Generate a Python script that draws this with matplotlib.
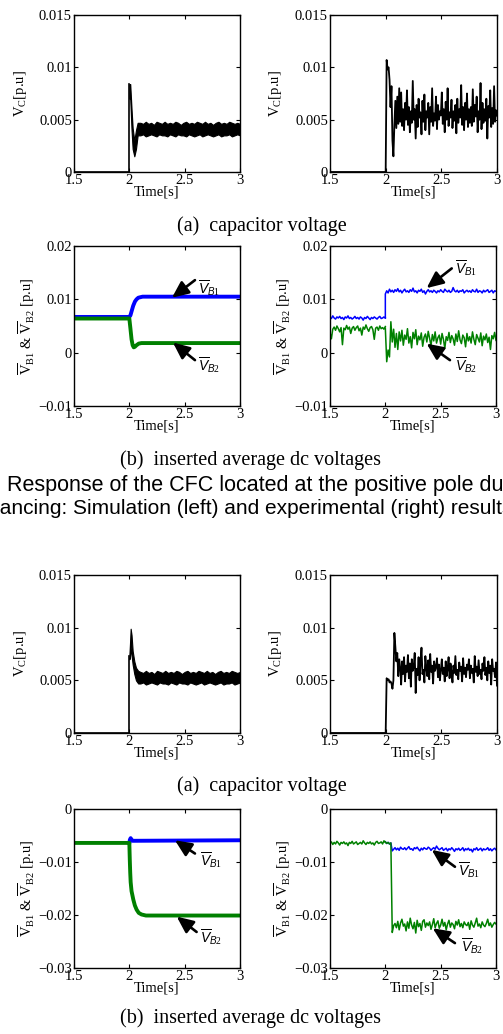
import numpy as np
import matplotlib
matplotlib.use('Agg')
import matplotlib.pyplot as plt
from matplotlib.ticker import FuncFormatter

plt.rcParams['font.family'] = 'Liberation Serif'
plt.rcParams['mathtext.fontset'] = 'custom'
plt.rcParams['mathtext.rm'] = 'Liberation Serif'
plt.rcParams['mathtext.it'] = 'Liberation Sans:italic'
plt.rcParams['axes.unicode_minus'] = True

W, H = 503, 1034
BLUE = '#0000ff'
GREEN = '#008000'

# -------------------------------------------------------------
# data (values in 1e-3 p.u.)
# -------------------------------------------------------------
# --- case 1, simulation, capacitor voltage (ripple band) ---
vc1_sim_line_t = [1.5, 2.0, 2.0]
vc1_sim_line_v = [0.0, 0.0, 8.4]
vc1_sim_tr_t = [2.0, 2.008, 2.02, 2.03, 2.045, 2.06, 2.075]
vc1_sim_tr_hi = [8.4, 8.4, 6.0, 4.2, 3.0, 4.0, 4.7]
vc1_sim_tr_lo = [7.0, 7.0, 4.0, 2.2, 1.5, 2.2, 3.5]
vc1_sim_band_hi = [4.7, 4.6, 4.8, 4.6, 4.7, 4.5, 4.8, 4.7, 4.6, 4.8, 4.6, 4.7, 4.6,
                   4.8, 4.7, 4.5, 4.7, 4.8, 4.6, 4.7, 4.6, 4.8, 4.7, 4.6, 4.8, 4.6,
                   4.7, 4.5, 4.7, 4.8, 4.6, 4.7, 4.6, 4.8, 4.7, 4.6, 4.7, 4.6]
vc1_sim_band_lo = [3.5, 3.6, 3.4, 3.5, 3.6, 3.5, 3.4, 3.6, 3.5, 3.5, 3.4, 3.6, 3.5,
                   3.4, 3.6, 3.5, 3.5, 3.4, 3.6, 3.5, 3.4, 3.5, 3.6, 3.4, 3.5, 3.6,
                   3.5, 3.4, 3.5, 3.6, 3.4, 3.5, 3.5, 3.6, 3.4, 3.5, 3.6, 3.5]

# --- case 1, experiment, capacitor voltage ---
vc1_exp_pre_t = [1.5, 2.0]
vc1_exp_pre_v = [0.0, 0.0]
vc1_exp_v = [0.0, 10.7, 9.8, 10.0, 8.8, 6.2, 8.2, 3.0, 1.5, 4.5, 6.8, 4.2, 7.2, 4.6,
             8.0, 4.8, 7.6, 4.4, 6.0, 4.0, 6.6, 5.0, 7.8, 4.5, 6.2, 3.8, 5.8, 4.7,
             8.7, 5.0, 6.0, 3.2, 6.4, 4.3, 7.0, 5.2, 5.7, 3.6, 6.8, 4.8, 7.4, 4.0,
             5.8, 5.2, 6.6, 3.6, 6.2, 4.8, 8.0, 4.4, 5.6, 4.9, 7.2, 4.1, 6.4, 5.0,
             5.8, 5.4, 7.6, 4.6, 6.0, 3.8, 6.7, 5.0, 8.0, 4.4, 5.7, 5.2, 6.9, 4.2,
             5.8, 4.9, 6.4, 3.7, 7.0, 4.7, 6.0, 5.2, 8.3, 4.5, 6.2, 4.0, 6.6, 5.0,
             7.5, 4.3, 6.0, 4.7, 6.2, 4.4, 7.9, 4.8, 6.4, 5.3, 7.2, 3.8, 5.8, 5.0,
             8.5, 4.1, 6.6, 4.7, 6.0, 4.9, 7.0, 3.2, 6.3, 5.2, 7.8, 4.3, 6.1, 4.6,
             8.2, 4.8, 5.9, 5.4]

# --- case 1, simulation, inserted average dc voltages ---
vb1_sim1_t = [1.5, 2.0, 2.01, 2.021, 2.035, 2.051, 2.065, 2.081, 2.1, 2.12, 3.0]
vb1_sim1_v = [6.7, 6.7, 7.0, 7.8, 8.8, 9.6, 10.0, 10.3, 10.4, 10.5, 10.5]
vb2_sim1_t = [1.5, 2.0, 2.01, 2.02, 2.03, 2.04, 2.05, 2.065, 2.085, 2.11, 3.0]
vb2_sim1_v = [6.4, 6.4, 4.5, 2.5, 1.4, 1.0, 1.1, 1.4, 1.7, 1.8, 1.8]

# --- case 1, experiment, inserted average dc voltages ---
vb1_exp1_pre = [6.6, 6.4, 6.9, 6.5, 6.3, 6.7, 6.5, 6.8, 6.4, 6.6, 6.2, 6.7, 6.5, 6.9,
                6.4, 6.6, 6.3, 6.5, 6.8, 6.4, 6.6, 6.3, 6.7, 6.5, 6.1, 6.6, 6.4, 6.8,
                6.5, 6.2, 6.6, 6.4, 6.7, 6.5, 6.3, 6.6, 6.8, 6.4, 6.5, 6.7, 6.5]
vb1_exp1_post = [11.0, 11.6, 11.2, 11.9, 11.4, 11.7, 11.3, 11.8, 11.5, 12.0, 11.4,
                 11.7, 11.2, 11.6, 11.9, 11.4, 11.6, 11.3, 11.8, 11.5, 12.1, 11.4,
                 11.6, 11.2, 11.7, 11.5, 11.9, 11.3, 11.6, 11.0, 11.5, 11.8, 11.4,
                 11.6, 11.3, 11.7, 11.5, 11.2, 11.6, 11.4, 11.8, 11.5, 11.3, 11.9,
                 11.6, 11.4, 11.7, 11.3, 11.5, 12.2, 11.6, 11.4, 11.7, 11.3, 11.6,
                 11.5, 11.8, 11.2, 11.5, 11.7, 11.4, 11.6, 11.3, 11.8, 11.5, 11.4,
                 11.9, 11.3, 11.6, 11.5, 11.2, 11.7, 11.4, 11.6, 11.8, 11.3, 11.5,
                 11.7, 11.2, 11.6, 11.5]
vb2_exp1_pre = [3.8, 2.6, 4.4, 4.8, 4.2, 5.0, 4.5, 3.9, 4.7, 1.5, 4.6, 4.3, 5.1, 4.4,
                4.8, 3.6, 4.6, 4.9, 4.2, 4.7, 5.0, 4.1, 4.6, 3.3, 4.8, 4.4, 5.2, 4.5,
                4.0, 4.7, 4.9, 4.3, 2.5, 4.6, 4.8, 4.2, 5.0, 4.5, 4.7, 4.4, 4.9]
vb2_exp1_post = [4.6, -1.7, 0.5, -0.8, 5.8, 2.0, 4.4, 1.0, 3.6, 0.6, 3.9, 2.2, 4.2,
                 1.4, 3.3, 2.5, 4.5, 1.8, 3.0, 0.9, 3.8, 2.6, 4.3, 1.5, 3.1, 2.4,
                 3.7, 1.2, 2.9, 3.5, 2.0, 4.0, 2.7, 1.3, 3.4, 2.2, 3.9, 1.8, 2.8,
                 3.3, 1.6, 3.6, 2.5, 0.8, 3.0, 2.3, 3.8, 1.9, 3.2, 2.6, 1.4, 3.5,
                 2.1, 4.1, 2.4, 1.7, 3.3, 2.8, 1.1, 3.6, 2.2, 3.0, 1.8, 3.9, 2.5,
                 1.5, 3.4, 2.7, 2.0, 3.7, 1.3, 3.1, 2.4, 3.5, 1.9, 2.9, 0.6, 3.2,
                 2.6, 3.8, 2.3]

# --- case 2, simulation, capacitor voltage ---
vc2_sim_line_t = [1.5, 2.0, 2.0]
vc2_sim_line_v = [0.0, 0.0, 7.3]
vc2_sim_tr_t = [2.0, 2.006, 2.012, 2.02, 2.03, 2.045, 2.06, 2.08]
vc2_sim_tr_hi = [7.3, 8.5, 9.9, 9.3, 7.8, 6.8, 6.2, 5.9]
vc2_sim_tr_lo = [7.0, 7.2, 8.2, 7.4, 6.5, 5.6, 5.0, 4.7]
vc2_sim_band_hi = [5.8, 5.7, 5.9, 5.7, 5.8, 5.6, 5.9, 5.8, 5.7, 5.9, 5.7, 5.8, 5.7,
                   5.9, 5.8, 5.6, 5.8, 5.9, 5.7, 5.8, 5.7, 5.9, 5.8, 5.7, 5.9, 5.7,
                   5.8, 5.6, 5.8, 5.9, 5.7, 5.8, 5.7, 5.9, 5.8, 5.7, 5.8]
vc2_sim_band_lo = [4.7, 4.8, 4.6, 4.7, 4.8, 4.7, 4.6, 4.8, 4.7, 4.7, 4.6, 4.8, 4.7,
                   4.6, 4.8, 4.7, 4.7, 4.6, 4.8, 4.7, 4.6, 4.7, 4.8, 4.6, 4.7, 4.8,
                   4.7, 4.6, 4.7, 4.8, 4.6, 4.7, 4.7, 4.8, 4.6, 4.7, 4.8]

# --- case 2, experiment, capacitor voltage ---
vc2_exp_pre_t = [1.5, 2.0]
vc2_exp_pre_v = [0.0, 0.0]
vc2_exp_v = [0.0, 5.2, 5.0, 5.1, 4.8, 4.9, 4.7, 4.2, 5.0, 9.5, 8.2, 6.8, 7.6, 5.4,
             7.0, 6.2, 4.6, 6.8, 5.6, 7.2, 4.9, 6.4, 5.8, 7.4, 5.2, 6.6, 4.4, 7.0,
             5.9, 6.3, 7.6, 3.8, 6.1, 5.5, 7.2, 5.0, 6.7, 8.1, 5.6, 6.0, 4.8, 7.3,
             6.2, 5.4, 6.9, 5.1, 7.5, 5.8, 6.4, 4.7, 6.8, 5.9, 6.3, 7.1, 5.3, 6.5,
             5.0, 6.0, 7.0, 5.6, 6.2, 4.9, 6.8, 5.4, 6.1, 7.2, 5.2, 6.6, 5.8, 4.8,
             6.4, 5.7, 7.3, 5.5, 6.0, 5.1, 6.7, 5.9, 6.3, 4.9, 7.1, 5.6, 6.2, 5.3,
             6.5, 6.0, 7.0, 5.2, 6.4, 5.7, 6.1, 4.8, 7.3, 5.8, 6.3, 5.4, 6.9, 5.6,
             6.0, 5.1, 6.6, 5.9, 7.2, 5.5, 6.2, 5.0, 6.8, 5.7, 6.4, 4.6, 7.0, 5.9,
             6.1, 5.3, 6.7, 4.5]

# --- case 2, simulation, inserted average dc voltages ---
vb1_sim2_t = [2.0, 2.005, 2.012, 2.02, 2.03, 3.0]
vb1_sim2_v = [-6.4, -5.8, -5.5, -5.8, -6.0, -5.9]
vb2_sim2_t = [1.5, 2.0, 2.004, 2.008, 2.012, 2.02, 2.036, 2.05, 2.066, 2.085, 2.11,
              2.15, 3.0]
vb2_sim2_v = [-6.4, -6.4, -9.5, -12.0, -13.8, -15.5, -17.1, -18.2, -19.0, -19.6,
              -19.9, -20.1, -20.1]

# --- case 2, experiment, inserted average dc voltages ---
vb2_exp2_pre = [-6.5, -6.2, -6.7, -6.3, -6.6, -6.1, -6.4, -6.8, -6.3, -6.5, -6.2,
                -6.6, -6.4, -6.9, -6.3, -6.5, -6.1, -6.6, -6.4, -6.2, -6.7, -6.5,
                -6.3, -6.6, -6.0, -6.4, -6.7, -6.3, -6.5, -6.2, -6.6, -6.4, -6.8,
                -6.3, -6.1, -6.5, -6.4, -6.2, -6.6, -6.0, -6.3]
vb2_exp2_post = [-6.2, -6.5, -6.3, -6.6, -6.4, -23.3, -22.0, -21.6, -22.4, -21.2,
                 -22.8, -21.5, -20.8, -22.1, -21.7, -23.0, -21.3, -22.5, -20.6,
                 -21.9, -22.6, -21.4, -23.4, -21.0, -22.2, -21.6, -22.9, -21.2,
                 -20.9, -22.3, -21.5, -22.0, -21.3, -22.7, -21.8, -20.7, -22.4,
                 -21.6, -21.1, -22.5, -21.9, -20.8, -22.1, -21.4, -22.8, -21.7,
                 -21.0, -22.3, -21.5, -21.8, -22.6, -21.2, -21.9, -20.9, -22.2,
                 -21.6, -22.4, -21.3, -21.8, -22.0, -21.4, -22.7, -21.1, -21.9,
                 -22.3, -21.5, -20.6, -22.1, -21.7, -22.4, -21.3, -21.9, -22.2,
                 -21.6, -20.8, -22.0, -21.5, -22.3, -21.8, -21.4, -21.7]
vb1_exp2_post = [-6.2, -6.5, -6.3, -6.6, -6.4, -7.9, -7.6, -7.3, -7.7, -7.4, -7.8,
                 -7.2, -7.5, -7.6, -7.3, -7.7, -7.4, -7.1, -7.6, -7.5, -7.8, -7.3,
                 -7.5, -7.2, -7.6, -7.9, -7.4, -7.7, -7.3, -7.5, -7.6, -7.2, -7.4,
                 -7.8, -7.5, -7.3, -7.6, -7.0, -7.4, -7.7, -7.5, -7.3, -7.8, -7.6,
                 -7.4, -7.9, -7.5, -7.7, -7.3, -7.6, -8.0, -7.5, -7.7, -7.4, -7.8,
                 -7.6, -7.3, -7.9, -7.5, -7.7, -7.4, -7.8, -7.6, -8.1, -7.5, -7.7,
                 -7.3, -7.8, -7.6, -7.4, -7.9, -7.5, -7.7, -7.6, -7.3, -7.8, -7.5,
                 -7.9, -7.6, -7.4, -7.7]

xticks = [1.5, 2.0, 2.5, 3.0]
vc_ticks = [0, 0.005, 0.01, 0.015]
vb_ticks1 = [-0.01, 0, 0.01, 0.02]
vb_ticks2 = [-0.03, -0.02, -0.01, 0]

m = 1e-3
fmt = FuncFormatter(lambda v, p: ('%g' % round(v, 4)).replace('-', '\u2212'))

fig = plt.figure(figsize=(W / 100, H / 100), dpi=100)


def make_ax(left, top, right, bottom, yticks, ylabel, ylab_x):
    ax = fig.add_axes([left / W, 1 - bottom / H, (right - left) / W, (bottom - top) / H])
    ax.set_xlim(1.5, 3.0)
    ax.set_ylim(yticks[0], yticks[-1])
    ax.set_xticks(xticks)
    ax.set_yticks(yticks)
    ax.xaxis.set_major_formatter(fmt)
    ax.yaxis.set_major_formatter(fmt)
    ax.tick_params(direction='in', length=3, width=0.8, top=True, right=True,
                   labelsize=10.5, pad=1.5)
    for s in ax.spines.values():
        s.set_linewidth(1.0)
    ax.set_xlabel('Time[s]', fontsize=10.5)
    ax.xaxis.set_label_coords(0.5, -0.125)
    ax.xaxis.label.set_va('center')
    ax.set_ylabel(ylabel, fontsize=10.5)
    ax.yaxis.set_label_coords(ylab_x, 0.5)
    ax.yaxis.label.set_va('center')
    return ax


def arrow(ax, head, tail, text_xy, label):
    ax.annotate('', xy=head, xytext=tail,
                arrowprops=dict(arrowstyle='-|>,head_length=1.0,head_width=0.45',
                                lw=1.9, color='k', shrinkA=0, shrinkB=0,
                                mutation_scale=10))
    ax.text(text_xy[0], text_xy[1], label, fontsize=10, ha='center', va='center')


VC_LABEL = r'V$_{\mathrm{C}}$[p.u]'
VB_LABEL = r'$\overline{\mathrm{V}}_{\mathrm{B1}}$ & $\overline{\mathrm{V}}_{\mathrm{B2}}$ [p.u]'
B1 = r'$\overline{V}_{\mathit{B1}}$'
B2 = r'$\overline{V}_{\mathit{B2}}$'


def sim_band(ax, line_t, line_v, tr_t, tr_hi, tr_lo, band_hi, band_lo, t_start):
    ax.plot(line_t, np.array(line_v) * m, color='k', lw=1.2)
    bt = np.linspace(t_start, 3.0, len(band_hi))
    t = np.concatenate([tr_t, bt])
    hi = np.concatenate([tr_hi, band_hi]) * m
    lo = np.concatenate([tr_lo, band_lo]) * m
    ax.fill_between(t, lo, hi, color='k', lw=0.8)


# ---- row 1: capacitor voltage, case 1 ----
ax = make_ax(74, 15, 240, 172, vc_ticks, VC_LABEL, -0.325)
sim_band(ax, vc1_sim_line_t, vc1_sim_line_v, vc1_sim_tr_t, vc1_sim_tr_hi,
         vc1_sim_tr_lo, vc1_sim_band_hi, vc1_sim_band_lo, 2.1)

ax = make_ax(330, 15, 497, 172, vc_ticks, VC_LABEL, -0.325)
ax.plot(vc1_exp_pre_t, np.array(vc1_exp_pre_v) * m, color='k', lw=1.3)
ax.plot(np.linspace(2.0, 3.0, len(vc1_exp_v)), np.array(vc1_exp_v) * m, color='k', lw=1.3)

# ---- row 2: dc voltages, case 1 ----
ax = make_ax(74, 246, 240, 406, vb_ticks1, VB_LABEL, -0.283)
ax.plot(vb1_sim1_t, np.array(vb1_sim1_v) * m, color=BLUE, lw=2.8)
ax.plot(vb2_sim1_t, np.array(vb2_sim1_v) * m, color=GREEN, lw=2.8)
arrow(ax, (2.385, 0.0103), (2.593, 0.0136), (2.72, 0.0122), B1)
arrow(ax, (2.394, 0.0019), (2.593, -0.0014), (2.72, -0.0023), B2)

ax = make_ax(330, 246, 496, 406, vb_ticks1, VB_LABEL, -0.283)
ax.plot(np.linspace(1.5, 2.0, len(vb1_exp1_pre)), np.array(vb1_exp1_pre) * m, color=BLUE, lw=1.1)
ax.plot(np.concatenate([[2.0], np.linspace(2.0, 3.0, len(vb1_exp1_post))]),
        np.array([vb1_exp1_pre[-1]] + vb1_exp1_post) * m, color=BLUE, lw=1.1)
ax.plot(np.linspace(1.5, 2.0, len(vb2_exp1_pre)), np.array(vb2_exp1_pre) * m, color=GREEN, lw=1.1)
ax.plot(np.linspace(2.0, 3.0, len(vb2_exp1_post)), np.array(vb2_exp1_post) * m, color=GREEN, lw=1.1)
arrow(ax, (2.373, 0.0121), (2.60, 0.0158), (2.73, 0.0158), B1)
arrow(ax, (2.373, 0.0017), (2.584, -0.0014), (2.73, -0.0023), B2)

# ---- row 3: capacitor voltage, case 2 ----
ax = make_ax(74, 575, 240, 733, vc_ticks, VC_LABEL, -0.325)
sim_band(ax, vc2_sim_line_t, vc2_sim_line_v, vc2_sim_tr_t, vc2_sim_tr_hi,
         vc2_sim_tr_lo, vc2_sim_band_hi, vc2_sim_band_lo, 2.1)

ax = make_ax(330, 575, 497, 733, vc_ticks, VC_LABEL, -0.325)
ax.plot(vc2_exp_pre_t, np.array(vc2_exp_pre_v) * m, color='k', lw=1.3)
ax.plot(np.linspace(2.0, 3.0, len(vc2_exp_v)), np.array(vc2_exp_v) * m, color='k', lw=1.3)

# ---- row 4: dc voltages, case 2 ----
ax = make_ax(74, 809, 240, 968, vb_ticks2, VB_LABEL, -0.283)
ax.plot(vb1_sim2_t, np.array(vb1_sim2_v) * m, color=BLUE, lw=2.8)
ax.plot(vb2_sim2_t, np.array(vb2_sim2_v) * m, color=GREEN, lw=2.8)
arrow(ax, (2.412, -0.0059), (2.593, -0.0084), (2.74, -0.0097), B1)
arrow(ax, (2.428, -0.0203), (2.608, -0.0232), (2.74, -0.0242), B2)

ax = make_ax(330, 809, 496, 968, vb_ticks2, VB_LABEL, -0.283)
ax.plot(np.linspace(2.0, 3.0, len(vb1_exp2_post)), np.array(vb1_exp2_post) * m, color=BLUE, lw=1.1)
ax.plot(np.linspace(1.5, 2.0, len(vb2_exp2_pre)), np.array(vb2_exp2_pre) * m, color=GREEN, lw=1.1)
ax.plot(np.linspace(2.0, 3.0, len(vb2_exp2_post)), np.array(vb2_exp2_post) * m, color=GREEN, lw=1.1)
arrow(ax, (2.419, -0.0077), (2.629, -0.0109), (2.76, -0.0115), B1)
arrow(ax, (2.428, -0.0225), (2.629, -0.0253), (2.78, -0.0258), B2)

# ---- captions ----
fig.text(262 / W, 1 - 226 / H, '(a)  capacitor voltage', ha='center', va='center', fontsize=14.5)
fig.text(251 / W, 1 - 460 / H, '(b)  inserted average dc voltages', ha='center', va='center', fontsize=14.5)
fig.text(7 / W, 1 - 485 / H, 'Response of the CFC located at the positive pole during',
         ha='left', va='center', fontsize=15.5, family='Liberation Sans')
fig.text(-28 / W, 1 - 508 / H, 'balancing: Simulation (left) and experimental (right) results.',
         ha='left', va='center', fontsize=15.0, family='Liberation Sans')
fig.text(262 / W, 1 - 786 / H, '(a)  capacitor voltage', ha='center', va='center', fontsize=14.5)
fig.text(251 / W, 1 - 1018 / H, '(b)  inserted average dc voltages', ha='center', va='center', fontsize=14.5)

fig.savefig('out.png', dpi=100)
plt.close(fig)
